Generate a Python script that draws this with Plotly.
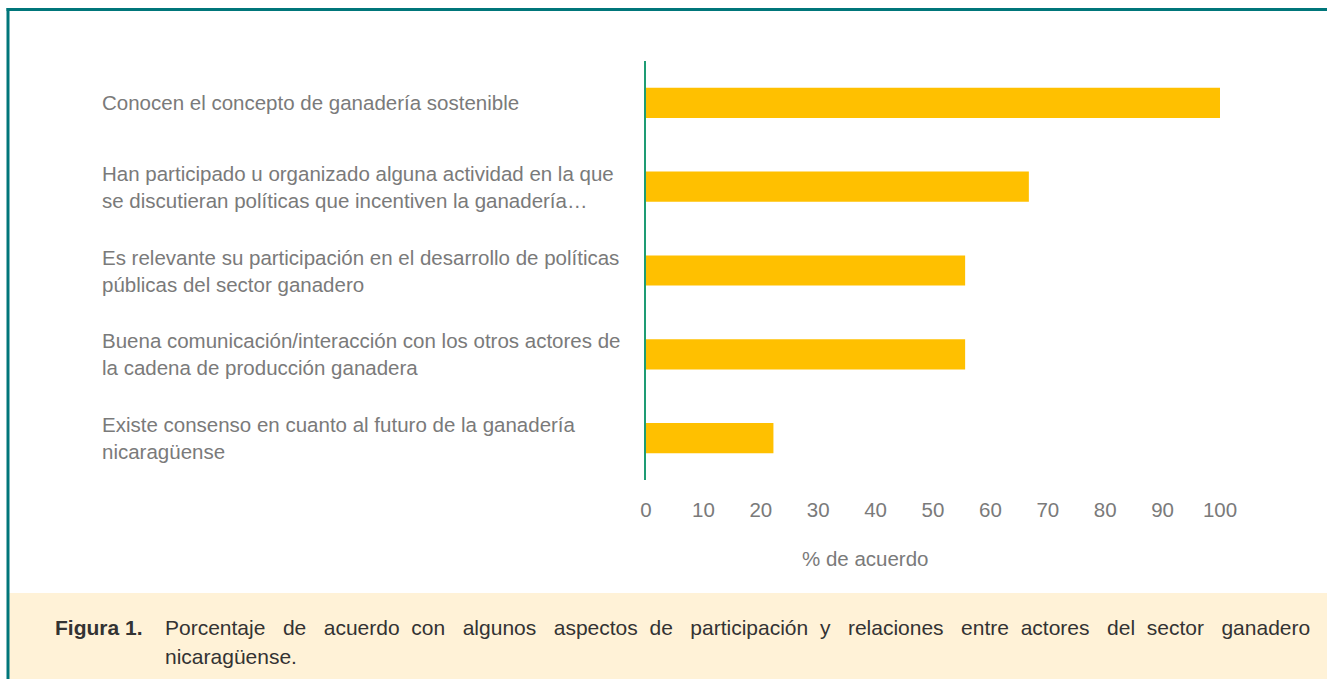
import plotly.graph_objects as go

categories = [
    "Conocen el concepto de ganadería sostenible",
    "Han participado u organizado alguna actividad en la que<br>se discutieran políticas que incentiven la ganadería…",
    "Es relevante su participación en el desarrollo de políticas<br>públicas del sector ganadero",
    "Buena comunicación/interacción con los otros actores de<br>la cadena de producción ganadera",
    "Existe consenso en cuanto al futuro de la ganadería<br>nicaragüense",
]
values = [100, 66.7, 55.6, 55.6, 22.2]
tick_vals = [0, 10, 20, 30, 40, 50, 60, 70, 80, 90, 100]
x_title = "% de acuerdo"
caption_label = "Figura 1."
caption_line1_words = ["Porcentaje", "de", "acuerdo", "con", "algunos", "aspectos", "de",
                       "participación", "y", "relaciones", "entre", "actores", "del",
                       "sector", "ganadero"]
caption_line2 = "nicaragüense."

W, H = 1327, 679
L, R_PX, T, B_PX = 646, 1220, 61, 480
FONT = "Liberation Sans, Arial, sans-serif"
GRAY = "#7a7a7a"
DARK = "#333333"

def px(xp):
    return (xp - L) / (R_PX - L)

def py(yp):
    return (B_PX - yp) / (B_PX - T)

keys = [f"c{i}" for i in range(len(categories))]

fig = go.Figure(go.Bar(
    x=values, y=keys, orientation="h",
    marker=dict(color="#FFC000", line=dict(width=0)),
    width=0.36, hoverinfo="x",
))

annotations = []
for k, c in zip(keys, categories):
    annotations.append(dict(
        x=px(100), xref="paper", y=k, yref="y", text=c, showarrow=False,
        xanchor="left", yanchor="middle", align="left",
        font=dict(family=FONT, size=20.5, color=GRAY),
    ))
annotations.append(dict(
    x=px(865), xref="paper", y=py(558), yref="paper", text=x_title, showarrow=False,
    xanchor="center", yanchor="middle", font=dict(family=FONT, size=20.5, color=GRAY),
))
annotations.append(dict(
    x=px(53), xref="paper", y=py(627), yref="paper", text=f"<b>{caption_label}</b>",
    showarrow=False, xanchor="left", yanchor="middle",
    font=dict(family=FONT, size=21, color=DARK),
))
# justified first caption line: widen the gaps with non-breaking spaces
gaps = [3, 3, 2, 3, 3, 2, 3, 2, 3, 3, 2, 3, 2, 3]
line1 = caption_line1_words[0]
for g, w in zip(gaps, caption_line1_words[1:]):
    line1 += "\u00a0" * g + w
annotations.append(dict(
    x=px(163), xref="paper", y=py(627), yref="paper", text=line1,
    showarrow=False, xanchor="left", yanchor="middle",
    font=dict(family=FONT, size=21, color=DARK),
))
annotations.append(dict(
    x=px(163), xref="paper", y=py(656), yref="paper", text=caption_line2,
    showarrow=False, xanchor="left", yanchor="middle",
    font=dict(family=FONT, size=21, color=DARK),
))

shapes = [
    dict(type="rect", xref="paper", yref="paper", x0=px(9), x1=px(W + 2), y0=py(593), y1=py(H + 2),
         fillcolor="#FFF2D7", line=dict(width=0), layer="below"),
    dict(type="line", xref="paper", yref="paper", x0=px(6.5), x1=px(W + 2), y0=py(9.5), y1=py(9.5),
         line=dict(color="#00767A", width=3)),
    dict(type="line", xref="paper", yref="paper", x0=px(8), x1=px(8), y0=py(8), y1=py(H + 2),
         line=dict(color="#00767A", width=3)),
]

fig.update_layout(
    width=W, height=H,
    margin=dict(l=L, r=W - R_PX, t=T, b=H - B_PX),
    paper_bgcolor="white", plot_bgcolor="white",
    showlegend=False,
    annotations=annotations, shapes=shapes,
    xaxis=dict(range=[0, 100], tickvals=tick_vals, showgrid=False, zeroline=False,
               showline=False, ticks="", ticklabelstandoff=15,
               tickfont=dict(family=FONT, size=20.5, color=GRAY)),
    yaxis=dict(categoryorder="array", categoryarray=keys, autorange="reversed",
               showticklabels=False, showgrid=False, zeroline=False,
               showline=True, linecolor="#1E9C74", linewidth=2, ticks=""),
)

fig.write_html("out.html", config={"displayModeBar": False},
               post_script="document.body.style.margin='0';")
